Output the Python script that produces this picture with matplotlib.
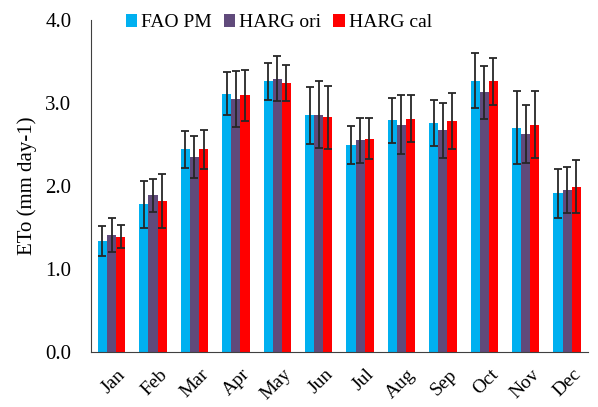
import matplotlib.pyplot as plt
import matplotlib.transforms as mtransforms
import numpy as np

months = ["Jan", "Feb", "Mar", "Apr", "May", "Jun",
          "Jul", "Aug", "Sep", "Oct", "Nov", "Dec"]

fao_pm = [1.34, 1.78, 2.44, 3.11, 3.26, 2.85, 2.49, 2.79, 2.76, 3.27, 2.70, 1.91]
fao_pm_err = [0.18, 0.28, 0.22, 0.26, 0.22, 0.34, 0.23, 0.27, 0.28, 0.33, 0.44, 0.30]

harg_ori = [1.41, 1.89, 2.35, 3.05, 3.29, 2.86, 2.55, 2.74, 2.67, 3.13, 2.63, 1.95]
harg_ori_err = [0.20, 0.20, 0.25, 0.34, 0.27, 0.40, 0.27, 0.36, 0.33, 0.32, 0.35, 0.28]

harg_cal = [1.39, 1.82, 2.44, 3.09, 3.24, 2.83, 2.57, 2.81, 2.78, 3.26, 2.74, 1.99]
harg_cal_err = [0.14, 0.33, 0.24, 0.31, 0.22, 0.38, 0.25, 0.28, 0.34, 0.28, 0.40, 0.32]

series = [
    ("FAO PM", fao_pm, fao_pm_err, "#00B0F0"),
    ("HARG ori", harg_ori, harg_ori_err, "#604A7B"),
    ("HARG cal", harg_cal, harg_cal_err, "#FF0000"),
]

plt.rcParams["font.family"] = ["Liberation Serif", "DejaVu Serif"]

fig = plt.figure(figsize=(5.98, 4.07), dpi=100)
ax = fig.add_axes([0.152, 0.135, 0.831, 0.816])

x = np.arange(len(months))
width = 0.22
for i, (name, vals, errs, color) in enumerate(series):
    ax.bar(x + (i - 1) * width, vals, width, yerr=errs, color=color,
           label=name, capsize=3,
           error_kw=dict(ecolor="#262626", elinewidth=1.3, capthick=1.3))

ax.set_xlim(-0.5, 11.5)
ax.set_ylim(0, 4.0)
ax.set_yticks([0, 1, 2, 3, 4])
ax.set_yticklabels(["0.0", "1.0", "2.0", "3.0", "4.0"], fontsize=15)
ax.set_xticks(x)
ax.set_xticklabels(months, rotation=45, ha="right", rotation_mode="anchor",
                   fontsize=14)
ax.tick_params(axis="y", length=0, pad=14)
ax.tick_params(axis="x", length=0, pad=10)
shift = mtransforms.ScaledTranslation(4 / 72, 0, fig.dpi_scale_trans)
for lbl in ax.get_xticklabels():
    lbl.set_transform(lbl.get_transform() + shift)
ax.set_ylabel("ETo (mm day-1)", fontsize=15, labelpad=6)

for side in ["top", "right"]:
    ax.spines[side].set_visible(False)
ax.spines["left"].set_color("#404040")
ax.spines["bottom"].set_color("#404040")

ax.legend(loc="upper center", bbox_to_anchor=(0.378, 1.07), ncol=3,
          frameon=False, fontsize=14, handlelength=0.6, handleheight=0.6,
          handletextpad=0.2, columnspacing=0.6)

fig.savefig("out.png", dpi=100)
